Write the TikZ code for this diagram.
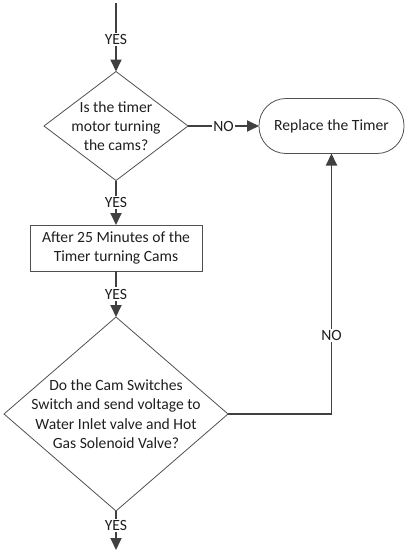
\documentclass[tikz,border=0pt]{standalone}
\usepackage{fontspec}
\setmainfont{Carlito}
\usetikzlibrary{shapes.geometric,arrows.meta}
\definecolor{linec}{HTML}{404040}
\definecolor{edgec}{HTML}{505050}
\begin{document}
\begin{tikzpicture}[x=1pt,y=-1pt,
  every node/.style={font=\fontsize{15.6}{19.3}\selectfont, text=black!88},
  dia/.style={diamond, draw=edgec, line width=0.8pt, inner sep=0pt, outer sep=0pt},
  procbox/.style={rectangle, draw=edgec, line width=0.8pt, inner sep=0pt, outer sep=0pt, align=center},
  termbox/.style={rectangle, rounded corners=27pt, draw=edgec, line width=0.8pt, inner sep=0pt, outer sep=0pt},
  conn/.style={draw=linec, line width=1.8pt, -{Triangle[length=12pt,width=11pt]}},
  lbl/.style={fill=white, inner sep=1.5pt}]
\useasboundingbox (0,0) rectangle (405,552);
\coordinate (s) at (116,3);
\coordinate (e) at (116,550);
\node[dia, minimum width=144pt, minimum height=109pt,
  label={[align=center]center:Is the timer\\motor turning\\the cams?}] (d1) at (116,126) {};
\node[termbox, minimum width=145pt, minimum height=55pt] (t) at (331.5,126) {Replace the Timer};
\node[procbox, minimum width=172pt, minimum height=46pt] (b) at (116,248) {After 25 Minutes of the\\Timer turning Cams};
\node[dia, minimum width=224pt, minimum height=194pt,
  label={[align=center]center:Do the Cam Switches\\Switch and send voltage to\\Water Inlet valve and Hot\\Gas Solenoid Valve?}] (d2) at (116,414) {};
\draw[conn] (s) -- node[lbl, pos=0.53]{YES} (d1.north);
\draw[conn] (d1.east) -- node[lbl]{NO} (t.west);
\draw[conn] (d1.south) -- node[lbl]{YES} (b.north);
\draw[conn] (b.south) -- node[lbl]{YES} (d2.north);
\draw[conn] (d2.east) -| node[lbl, pos=0.65]{NO} (t.south);
\draw[conn] (d2.south) -- node[lbl, pos=0.38]{YES} (e);
\end{tikzpicture}
\end{document}
